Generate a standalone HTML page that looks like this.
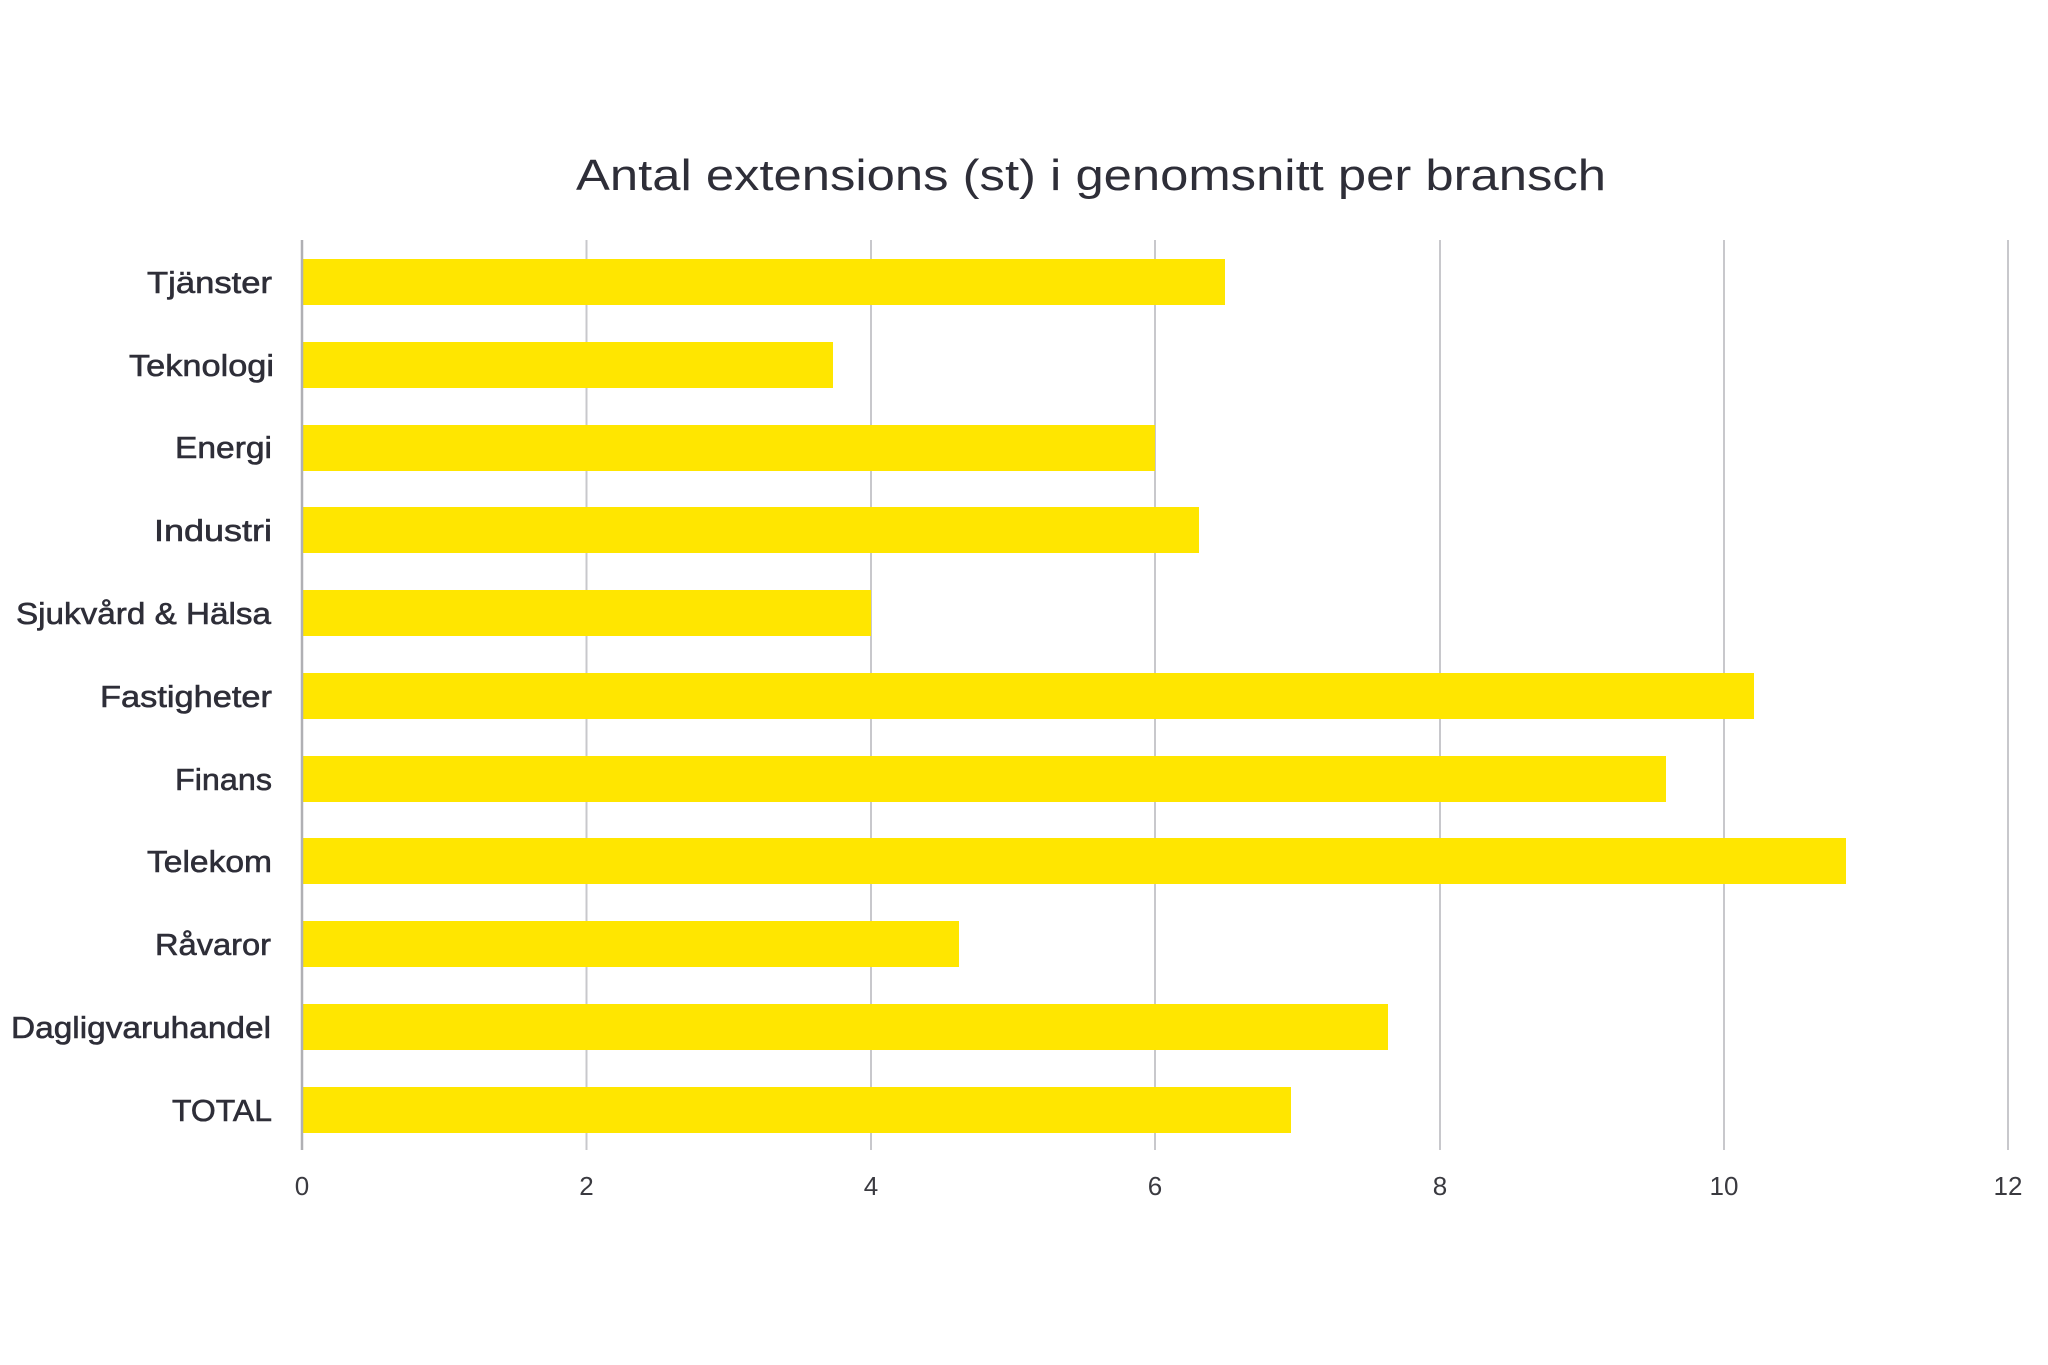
<!DOCTYPE html>
<html><head><meta charset="utf-8"><style>html,body{margin:0;padding:0;background:#fff}svg{display:block}</style></head>
<body>
<svg width="2048" height="1365" xmlns="http://www.w3.org/2000/svg" font-family="'Liberation Sans', 'DejaVu Sans', sans-serif">
<rect width="2048" height="1365" fill="#fff"/>
<text x="1091" y="190" font-size="44" fill="#2e2e38" text-anchor="middle" textLength="1030" lengthAdjust="spacingAndGlyphs">Antal extensions (st) i genomsnitt per bransch</text>
<g stroke="#c8c8cc" stroke-width="2">
<line x1="586.5" y1="240" x2="586.5" y2="1150"/>
<line x1="871" y1="240" x2="871" y2="1150"/>
<line x1="1155" y1="240" x2="1155" y2="1150"/>
<line x1="1440" y1="240" x2="1440" y2="1150"/>
<line x1="1724" y1="240" x2="1724" y2="1150"/>
<line x1="2008" y1="240" x2="2008" y2="1150"/>
</g>
<g fill="#ffe600">
<rect x="302" y="259" width="923" height="46"/>
<rect x="302" y="342" width="531" height="46"/>
<rect x="302" y="425" width="853" height="46"/>
<rect x="302" y="507" width="897" height="46"/>
<rect x="302" y="590" width="569" height="46"/>
<rect x="302" y="673" width="1452" height="46"/>
<rect x="302" y="756" width="1364" height="46"/>
<rect x="302" y="838" width="1544" height="46"/>
<rect x="302" y="921" width="657" height="46"/>
<rect x="302" y="1004" width="1086" height="46"/>
<rect x="302" y="1087" width="989" height="46"/>
</g>
<line x1="302" y1="240" x2="302" y2="1150" stroke="#b0b0b4" stroke-width="2.5"/>
<g font-size="31" fill="#2e2e38" stroke="#2e2e38" stroke-width="0.6" text-anchor="end" lengthAdjust="spacingAndGlyphs">
<text x="272" y="293" textLength="125" lengthAdjust="spacingAndGlyphs">Tjänster</text>
<text x="274" y="376" textLength="145" lengthAdjust="spacingAndGlyphs">Teknologi</text>
<text x="272" y="458" textLength="97" lengthAdjust="spacingAndGlyphs">Energi</text>
<text x="272" y="541" textLength="118" lengthAdjust="spacingAndGlyphs">Industri</text>
<text x="271" y="624" textLength="255" lengthAdjust="spacingAndGlyphs">Sjukvård &amp; Hälsa</text>
<text x="272" y="707" textLength="172" lengthAdjust="spacingAndGlyphs">Fastigheter</text>
<text x="272" y="790" textLength="97" lengthAdjust="spacingAndGlyphs">Finans</text>
<text x="272" y="872" textLength="125" lengthAdjust="spacingAndGlyphs">Telekom</text>
<text x="271" y="955" textLength="116" lengthAdjust="spacingAndGlyphs">Råvaror</text>
<text x="271" y="1038" textLength="260" lengthAdjust="spacingAndGlyphs">Dagligvaruhandel</text>
<text x="272" y="1121" textLength="100" lengthAdjust="spacingAndGlyphs">TOTAL</text>
</g>
<g font-size="26" fill="#3a3a40" text-anchor="middle">
<text x="302" y="1195">0</text>
<text x="586.5" y="1195">2</text>
<text x="871" y="1195">4</text>
<text x="1155" y="1195">6</text>
<text x="1440" y="1195">8</text>
<text x="1724" y="1195">10</text>
<text x="2008" y="1195">12</text>
</g>
</svg>
</body></html>
